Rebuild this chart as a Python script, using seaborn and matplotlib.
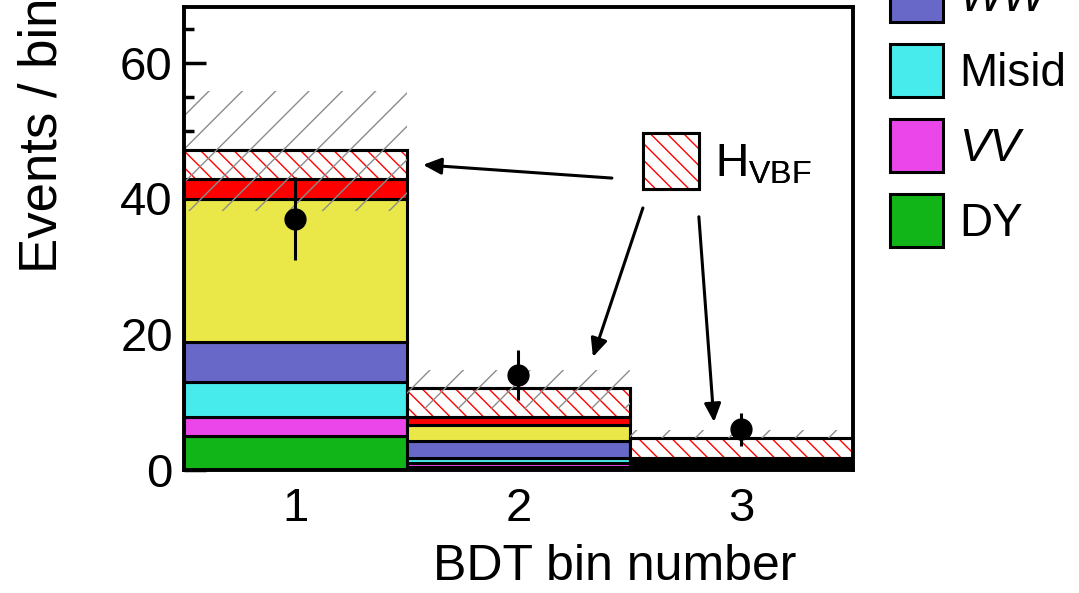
import numpy as np
import pandas as pd
import matplotlib
matplotlib.use("Agg")
import matplotlib.pyplot as plt
from matplotlib.patches import Patch, Rectangle
from matplotlib.legend_handler import HandlerTuple
import seaborn as sns

# ---------------- data ----------------
bins = [1, 2, 3]
DY = [5.0, 0.4, 0.2]
VV = [2.8, 0.6, 0.2]
Misid = [5.1, 0.7, 0.3]
WW = [5.9, 2.5, 0.4]
top = [21.1, 2.4, 0.3]
ggF = [3.0, 1.2, 0.3]
VBF = [4.2, 4.3, 3.0]
band_lo = [38.2, 9.0, 4.7]
band_hi = [55.9, 14.8, 5.9]
data = [37, 14, 6]
data_err = [6.1, 3.7, 2.4]
tick_labels = ["1", "2", "3"]

colors = {
    "DY": "#12b518",
    "VV": "#ea46ea",
    "Misid": "#48ebeb",
    "WW": "#6868c9",
    "top": "#e9e848",
    "ggF": "#ff0000",
    "VBF": "#ffffff",
}
stack_order = ["VBF", "ggF", "top", "WW", "Misid", "VV", "DY"]  # top -> bottom

sns.set_theme(style="ticks")
plt.rcParams["font.family"] = ["Liberation Sans", "DejaVu Sans"]
plt.rcParams["mathtext.fontset"] = "custom"
plt.rcParams["mathtext.rm"] = "Liberation Sans"
plt.rcParams["mathtext.it"] = "Liberation Sans:italic"
plt.rcParams["hatch.linewidth"] = 1.0
for k in ["text.color", "axes.labelcolor", "xtick.color", "ytick.color",
          "axes.edgecolor"]:
    plt.rcParams[k] = "black"

FS_TICK = 34
FS_LEG = 33
LW = 2.2

df = pd.DataFrame({
    "bin": np.tile(bins, 7),
    "process": np.repeat(["DY", "VV", "Misid", "WW", "top", "ggF", "VBF"], 3),
    "events": DY + VV + Misid + WW + top + ggF + VBF,
})

fig = plt.figure(figsize=(10.79, 5.93), dpi=100)
ax = fig.add_axes([0.1705, 0.2074, 0.6200, 0.7808])

sns.histplot(data=df, x="bin", weights="events", hue="process",
             hue_order=stack_order, multiple="stack", discrete=True,
             palette=colors, edgecolor="black", linewidth=LW, alpha=1,
             legend=False, ax=ax)

# red hatch on the VBF layer (patches with white face)
for p in list(ax.patches):
    fc = p.get_facecolor()
    if fc[0] > 0.99 and fc[1] > 0.99 and fc[2] > 0.99:
        ax.add_patch(Rectangle(p.get_xy(), p.get_width(), p.get_height(),
                               fill=False, hatch="\\\\", edgecolor="red",
                               linewidth=0, zorder=p.get_zorder() + 0.1))
        ax.add_patch(Rectangle(p.get_xy(), p.get_width(), p.get_height(),
                               fill=False, edgecolor="black",
                               linewidth=LW, zorder=p.get_zorder() + 0.2))

# uncertainty band
ax.bar(bins, np.array(band_hi) - np.array(band_lo), bottom=band_lo, width=1.0,
       fill=False, hatch="/", edgecolor="#8c8c8c", linewidth=0, zorder=4)

# data points
ax.errorbar(bins, data, yerr=data_err, fmt="o", color="black", ms=15,
            elinewidth=LW, capsize=0, zorder=6)

ax.set_xlim(0.5, 3.5)
ax.set_ylim(0, 68.2)
ax.set_xticks(bins)
ax.set_xticklabels(tick_labels)
ax.set_yticks([0, 20, 40, 60])
ax.yaxis.set_minor_locator(matplotlib.ticker.MultipleLocator(5))
ax.tick_params(axis="y", which="major", direction="in", length=16, width=2.5,
               labelsize=FS_TICK, pad=8)
ax.tick_params(axis="y", which="minor", direction="in", length=7.5, width=2.5)
ax.tick_params(axis="x", which="major", direction="in", length=8, width=2.5,
               labelsize=FS_TICK, pad=12)
ax.tick_params(axis="x", which="minor", bottom=False)
for s in ax.spines.values():
    s.set_visible(True)
    s.set_linewidth(2.8)
    s.set_zorder(10)

ax.set_xlabel("BDT bin number", fontsize=36, loc="right")
ax.xaxis.set_label_coords(0.915, -0.160)
ax.set_ylabel("Events / bin", fontsize=38, loc="top")
ax.yaxis.set_label_coords(-0.174, 1.02)

# arrows from the H_VBF key to each bin
arrows = [((2.419, 43.0), (1.572, 44.95)),
          ((2.558, 38.6), (2.334, 16.65)),
          ((2.809, 37.3), (2.877, 7.07))]
for start, tip in arrows:
    ax.annotate("", xy=tip, xytext=start,
                arrowprops=dict(arrowstyle="-|>,head_length=0.55,head_width=0.25",
                                color="black", lw=LW, mutation_scale=20,
                                shrinkA=0, shrinkB=0), zorder=7)

# inner H_VBF key
vbf_handle = (Patch(facecolor="white", edgecolor="red", hatch="\\\\", linewidth=0),
              Patch(fill=False, edgecolor="black", linewidth=LW, joinstyle="round"))
leg_in = ax.legend([vbf_handle], [r"H$_{\mathregular{VBF}}$"],
                   handler_map={tuple: HandlerTuple(ndivide=1, pad=0)},
                   loc="upper left", bbox_to_anchor=(0.686, 0.728),
                   frameon=False, fontsize=FS_LEG, borderpad=0, borderaxespad=0,
                   handlelength=1.22, handleheight=1.5, handletextpad=0.36)
ax.add_artist(leg_in)

# right-hand legend (partly cut at top)
names = ["WW", "Misid", "VV", "DY"]
handles = [Patch(facecolor=colors[n], edgecolor="black", linewidth=LW,
                 joinstyle="round") for n in names]
leg = fig.legend(handles, names, loc="upper left",
                 bbox_to_anchor=(0.8248, 1.052), frameon=False, fontsize=FS_LEG,
                 borderpad=0, borderaxespad=0, handlelength=1.16,
                 handleheight=1.4, labelspacing=0.48, handletextpad=0.35)
for t in leg.get_texts():
    if t.get_text() in ("WW", "VV"):
        t.set_fontstyle("italic")

fig.savefig("out.png", dpi=100)
